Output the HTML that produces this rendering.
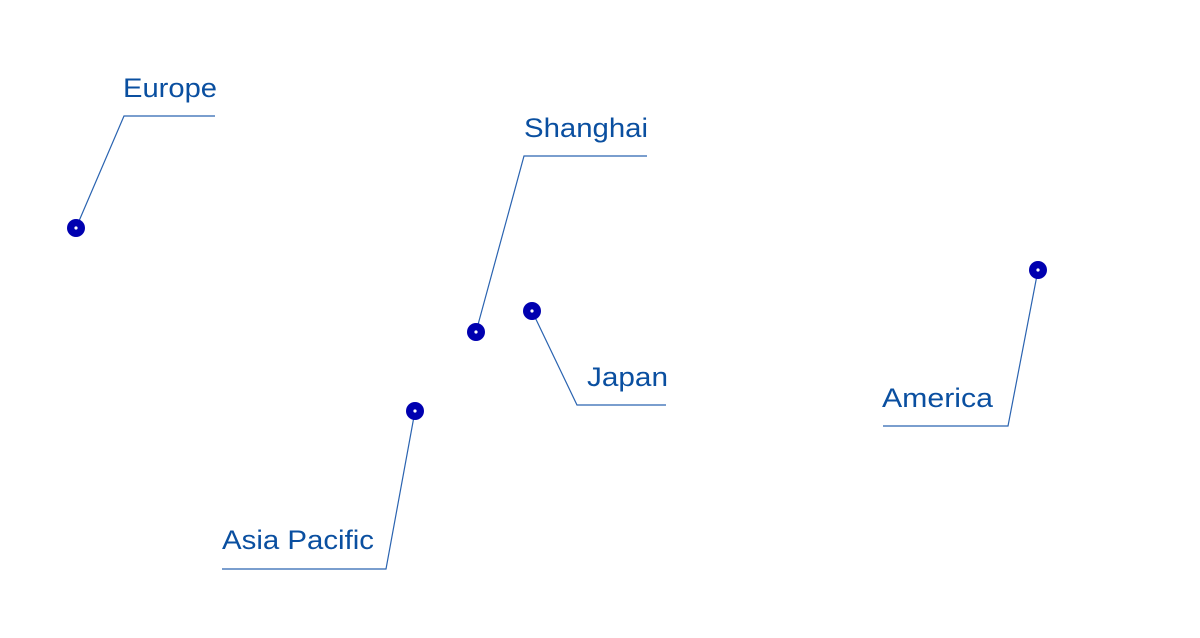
<!DOCTYPE html>
<html><head><style>html,body{margin:0;padding:0;background:#fff;}</style></head>
<body>
<svg width="1200" height="633" xmlns="http://www.w3.org/2000/svg">
<g fill="none" stroke="#2a63b0" stroke-width="1.2">
<polyline points="76,228 124,116 215,116"/>
<polyline points="476,332 524,156 647,156"/>
<polyline points="532,311 577,405 666,405"/>
<polyline points="1038,270 1008,426 883,426"/>
<polyline points="415,411 386,569 222,569"/>
</g>
<g fill="#0000b0">
<circle cx="76" cy="228" r="9"/>
<circle cx="476" cy="332" r="9"/>
<circle cx="532" cy="311" r="9"/>
<circle cx="1038" cy="270" r="9"/>
<circle cx="415" cy="411" r="9"/>
</g>
<g fill="#fff">
<circle cx="76" cy="228" r="1.6"/>
<circle cx="476" cy="332" r="1.6"/>
<circle cx="532" cy="311" r="1.6"/>
<circle cx="1038" cy="270" r="1.6"/>
<circle cx="415" cy="411" r="1.6"/>
</g>
<g fill="#0a4fa0" font-family="Liberation Sans, sans-serif" font-size="27">
<text x="123" y="97" textLength="94" lengthAdjust="spacingAndGlyphs">Europe</text>
<text x="524" y="137" textLength="124" lengthAdjust="spacingAndGlyphs">Shanghai</text>
<text x="587" y="386" textLength="81" lengthAdjust="spacingAndGlyphs">Japan</text>
<text x="882" y="407" textLength="111" lengthAdjust="spacingAndGlyphs">America</text>
<text x="222" y="549" textLength="152" lengthAdjust="spacingAndGlyphs">Asia Pacific</text>
</g>
</svg>
</body></html>
